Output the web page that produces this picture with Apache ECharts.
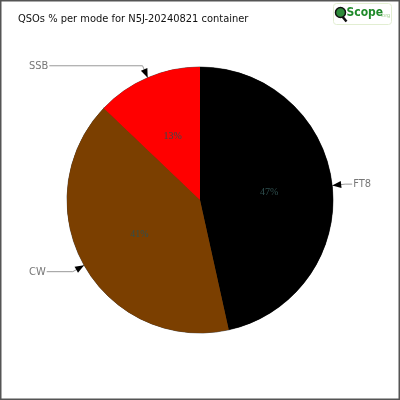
<!DOCTYPE html>
<html>
<head>
<meta charset="utf-8">
<script src="https://cdn.jsdelivr.net/npm/echarts@6/dist/echarts.min.js"></script>
<style>
    html, body { margin: 0; padding: 0; background: #fff; }
    #main { width: 400px; height: 400px; }
</style>
</head>
<body>
<div id="main"></div>
<script>
    // QSOs per mode
    var modes = ['FT8', 'CW', 'SSB'];
    var shares = [47, 41, 13];
    var modeColors = ['#000000', '#7b3f00', '#ff0000'];

    var cx = 200, cy = 200, r = 133;

    var pieData = modes.map(function (m, i) {
        return { name: m, value: shares[i], itemStyle: { color: modeColors[i] } };
    });

    // arrow heads at the pie edge, pointing in along each slice's middle
    var total = shares.reduce(function (a, b) { return a + b; }, 0);
    var arrows = [];
    var acc = 0;
    shares.forEach(function (v) {
        var mid = (acc + v / 2) / total * Math.PI * 2;
        acc += v;
        var ux = Math.sin(mid), uy = -Math.cos(mid);
        var tip = [cx + r * ux, cy + r * uy];
        var base = [cx + (r + 9) * ux, cy + (r + 9) * uy];
        var px = -uy * 3.5, py = ux * 3.5;
        arrows.push({
            type: 'polygon',
            shape: { points: [tip, [base[0] + px, base[1] + py], [base[0] - px, base[1] - py]] },
            style: { fill: '#000' },
            z: 100
        });
    });

    var myChart = echarts.init(document.getElementById('main'));
    var option = {
        animation: false,
        title: {
            text: 'QSOs % per mode for N5J-20240821 container',
            left: 13,
            top: 9,
            textStyle: {
                fontFamily: 'DejaVu Sans Condensed',
                fontSize: 11,
                fontWeight: 'normal',
                color: '#111'
            }
        },
        graphic: arrows.concat([
            {
                type: 'rect',
                shape: { x: 0.75, y: 0.75, width: 398.5, height: 398.5 },
                style: { fill: 'none', stroke: '#555', lineWidth: 1.5 },
                silent: true
            },
            // logo
            {
                type: 'group',
                left: 333,
                top: 3,
                children: [
                    { type: 'rect', shape: { x: 0, y: 0, width: 58, height: 21, r: 3 },
                      style: { fill: '#fff', stroke: '#e2eed2', lineWidth: 1 } },
                    { type: 'line', shape: { x1: 8, y1: 12, x2: 13, y2: 18 },
                      style: { stroke: '#111', lineWidth: 2.5 } },
                    { type: 'circle', shape: { cx: 7, cy: 9, r: 5 },
                      style: { fill: '#2e8b3a', stroke: '#111', lineWidth: 1.5 } },
                    { type: 'text', style: { x: 13, y: 3, text: 'Scope', fill: '#1f8a2a',
                      font: 'bold 12px "DejaVu Sans Condensed"' } },
                    { type: 'text', style: { x: 47, y: 10, text: '.org', fill: '#9ccf8a',
                      font: '5px "DejaVu Sans"' } }
                ]
            }
        ]),
        series: [
            {
                name: 'mode',
                type: 'pie',
                center: [cx, cy],
                radius: r,
                startAngle: 90,
                clockwise: true,
                silent: true,
                data: pieData,
                itemStyle: { borderColor: '#222', borderWidth: 0.6 },
                label: {
                    show: true,
                    position: 'inside',
                    formatter: '{c}%',
                    fontFamily: 'Liberation Serif',
                    fontSize: 10,
                    color: '#2f4f4f'
                },
                labelLine: { show: false }
            },
            {
                name: 'names',
                type: 'pie',
                center: [cx, cy],
                radius: r,
                startAngle: 90,
                clockwise: true,
                silent: true,
                data: pieData,
                itemStyle: { color: 'transparent', borderWidth: 0 },
                label: {
                    show: true,
                    position: 'outside',
                    alignTo: 'edge',
                    edgeDistance: 29,
                    distanceToLabelLine: 1,
                    overflow: 'none',
                    formatter: '{b}',
                    fontFamily: 'DejaVu Sans Condensed',
                    fontSize: 11,
                    color: '#777'
                },
                labelLine: {
                    show: true,
                    length: 13,
                    length2: 10,
                    lineStyle: { color: '#999', width: 1 }
                }
            }
        ]
    };
    myChart.setOption(option);
</script>
</body>
</html>
